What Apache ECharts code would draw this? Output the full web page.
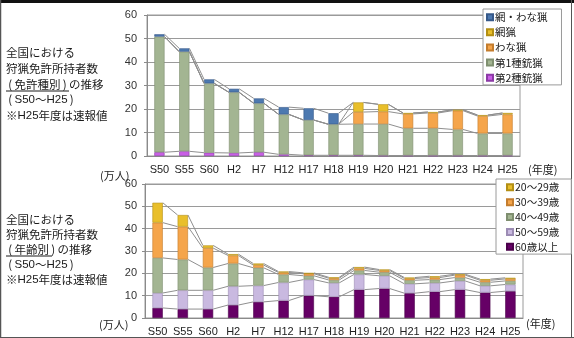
<!DOCTYPE html>
<html>
<head>
<meta charset="utf-8">
<script src="https://cdn.jsdelivr.net/npm/echarts@6/dist/echarts.min.js"></script>
<style>
  html, body { margin: 0; padding: 0; background: #fff; }
  #chart { width: 574px; height: 338px; }
</style>
</head>
<body>
<div id="chart"></div>
<script>
// 年度
const years = ['S50','S55','S60','H2','H7','H12','H17','H18','H19','H20','H21','H22','H23','H24','H25'];
const yTicks = [0, 10, 20, 30, 40, 50, 60];

// 免許種別（万人）
const daiNiJu   = [1.6, 2.0, 1.4, 1.3, 1.6, 0.7, 0.3, 0.3, 0.3, 0.2, 0.2, 0.2, 0.2, 0.2, 0.2];
const daiIchiJu = [49.2, 42.4, 29.5, 25.8, 20.8, 17.0, 15.0, 13.2, 13.3, 13.4, 11.6, 11.6, 11.1, 9.4, 9.4];
const wanaRyo   = [null, null, null, null, null, null, null, null, 5.1, 5.3, 6.1, 6.5, 8.0, 7.4, 8.1];
const amiRyo    = [null, null, null, null, null, null, null, null, 4.1, 3.1, 0.4, 0.4, 0.4, 0.4, 0.6];
const amiWana   = [1.0, 1.4, 1.7, 1.5, 2.1, 3.1, 5.0, 4.7, null, null, null, null, null, null, null];

// 年齢別（万人）
const age60 = [4.5, 4.0, 4.0, 5.8, 7.2, 7.8, 10.0, 9.5, 12.7, 13.2, 11.1, 11.8, 12.7, 11.4, 12.0];
const age50 = [6.7, 8.4, 8.4, 8.4, 7.3, 8.1, 7.2, 6.2, 6.8, 5.7, 4.2, 3.9, 3.9, 3.0, 3.0];
const age40 = [15.7, 13.8, 10.2, 10.2, 8.0, 3.6, 1.7, 1.3, 1.8, 1.6, 1.6, 1.5, 1.5, 1.6, 1.6];
const age30 = [15.8, 14.7, 8.7, 3.6, 1.2, 0.9, 0.9, 0.8, 0.9, 0.8, 0.8, 0.9, 1.1, 0.9, 0.9];
const age20 = [8.9, 5.2, 1.2, 0.6, 0.7, 0.4, 0.4, 0.4, 0.6, 0.4, 0.4, 0.6, 0.4, 0.5, 0.5];

const JP = '"Noto Sans CJK JP", "Liberation Sans", sans-serif';
const NUM = '"Liberation Sans", "Noto Sans CJK JP", sans-serif';
const BAR_FRAC = 0.41;

const chart = echarts.init(document.getElementById('chart'), null, { renderer: 'canvas' });

function barSeries(name, data, color, border, gi) {
  return {
    name, type: 'bar', data, stack: 'g' + gi,
    xAxisIndex: gi, yAxisIndex: gi,
    barWidth: (BAR_FRAC * 100) + '%',
    itemStyle: { color, borderColor: border, borderWidth: 0.6 },
    emphasis: { disabled: true }, silent: true
  };
}

// 系列線：隣り合う棒の各区切りを結ぶ
function seriesLines(stackArrays, gi) {
  const levels = [];
  let acc = years.map(() => 0);
  stackArrays.forEach(arr => {
    acc = acc.map((v, i) => v + (arr[i] || 0));
    levels.push(acc.slice());
  });
  return {
    type: 'custom', xAxisIndex: gi, yAxisIndex: gi, silent: true, z: 3,
    data: years.slice(0, -1).map((_, i) => [i, 0]),
    encode: { x: 0, y: 1 },
    renderItem(params, api) {
      const i = api.value(0);
      const half = api.size([1, 0])[0] * BAR_FRAC / 2;
      return {
        type: 'group',
        children: levels.map(lv => {
          const a = api.coord([i, lv[i]]);
          const b = api.coord([i + 1, lv[i + 1]]);
          return {
            type: 'line',
            shape: { x1: a[0] + half, y1: a[1], x2: b[0] - half, y2: b[1] },
            style: { stroke: '#8f8f8f', lineWidth: 1 }
          };
        })
      };
    }
  };
}

function xAxis(gi) {
  return {
    type: 'category', gridIndex: gi, data: years,
    axisLine: { lineStyle: { color: '#8a8a8a', width: 1 } },
    axisTick: { inside: true, length: 3, lineStyle: { color: '#8a8a8a' } },
    axisLabel: { color: '#222', fontSize: 11, fontFamily: NUM, margin: 8, interval: 0 }
  };
}
function yAxis(gi, margin) {
  return {
    type: 'value', gridIndex: gi, min: yTicks[0], max: yTicks[yTicks.length - 1], interval: 10,
    axisLine: { show: true, lineStyle: { color: '#8a8a8a' } },
    axisTick: { show: true, length: 3, lineStyle: { color: '#8a8a8a' } },
    splitLine: { lineStyle: { color: '#9a9a9a', width: 1 } },
    axisLabel: { color: '#333', fontSize: 11, fontFamily: NUM, margin }
  };
}

// 左側の説明文（括弧は詰めて描く）
const noteRich = {
  p: { width: 8.5, align: 'center', font: '11.5px ' + JP, fill: '#1a1a1a', lineHeight: 14 },
  l: { font: '11.5px ' + NUM, fill: '#1a1a1a', lineHeight: 14 }
};
function textLines(lines, x, ys, underline) {
  const els = lines.map((t, k) => ({
    type: 'text', x: x, y: ys[k], silent: true,
    style: {
      text: t, rich: noteRich, font: '11.5px ' + JP, fill: '#1a1a1a',
      lineHeight: 14, align: 'left', verticalAlign: 'middle'
    }
  }));
  els.push({
    type: 'line', silent: true,
    shape: { x1: underline[0], y1: underline[2], x2: underline[1], y2: underline[2] },
    style: { stroke: '#1a1a1a', lineWidth: 1 }
  });
  return els;
}

const smallText = (t, x, y) => ({
  type: 'text', left: x, top: y, silent: true,
  style: { text: t, font: '11px ' + JP, fill: '#222' }
});

const legendText = { fontSize: 10.5, fontFamily: JP, color: '#222', lineHeight: 10, padding: [0, 0, 0, -3] };

const option = {
  animation: false,
  backgroundColor: '#fff',
  grid: [
    { left: 147, top: 15, width: 373, height: 141, show: true, borderColor: '#9a9a9a', borderWidth: 1, backgroundColor: 'transparent' },
    { left: 145, top: 184, width: 378, height: 134, show: true, borderColor: '#9a9a9a', borderWidth: 1, backgroundColor: 'transparent' }
  ],
  xAxis: [xAxis(0), xAxis(1)],
  yAxis: [yAxis(0, 10), yAxis(1, 8)],
  legend: [
    {
      data: ['網・わな猟', '網猟', 'わな猟', '第1種銃猟', '第2種銃猟'],
      orient: 'vertical', left: 483, top: 9, width: 79,
      itemWidth: 6, itemHeight: 6, itemGap: 4.6, icon: 'rect',
      padding: [3, 14, 2, 3],
      backgroundColor: '#fff', borderColor: '#9a9a9a', borderWidth: 1,
      textStyle: legendText, selectedMode: false
    },
    {
      data: ['20〜29歳', '30〜39歳', '40〜49歳', '50〜59歳', '60歳以上'],
      orient: 'vertical', left: 496, top: 179, width: 68,
      itemWidth: 6, itemHeight: 6, itemGap: 4.4, icon: 'rect',
      padding: [3, 12, 2, 10],
      backgroundColor: '#fff', borderColor: '#9a9a9a', borderWidth: 1,
      textStyle: legendText, selectedMode: false
    }
  ],
  series: [
    barSeries('第2種銃猟', daiNiJu, '#c95fe6', '#8c3aa6', 0),
    barSeries('第1種銃猟', daiIchiJu, '#a3b592', '#7f8f70', 0),
    barSeries('わな猟', wanaRyo, '#f5a54b', '#c47d2e', 0),
    barSeries('網猟', amiRyo, '#e9bf2b', '#b38f14', 0),
    barSeries('網・わな猟', amiWana, '#4d79b0', '#36598a', 0),
    seriesLines([daiNiJu, daiIchiJu, wanaRyo, amiRyo, amiWana], 0),

    barSeries('60歳以上', age60, '#660066', '#4a004a', 1),
    barSeries('50〜59歳', age50, '#c9b9e0', '#9c8cb4', 1),
    barSeries('40〜49歳', age40, '#a3b592', '#7f8f70', 1),
    barSeries('30〜39歳', age30, '#f5a54b', '#c47d2e', 1),
    barSeries('20〜29歳', age20, '#e9bf2b', '#b38f14', 1),
    seriesLines([age60, age50, age40, age30, age20], 1)
  ],
  graphic: [
    // 外枠
    { type: 'rect', silent: true, shape: { x: 0, y: 0, width: 574, height: 3 }, style: { fill: '#111' } },
    { type: 'line', silent: true, shape: { x1: 0.5, y1: 0, x2: 0.5, y2: 338 }, style: { stroke: '#555', lineWidth: 1.5 } },
    { type: 'line', silent: true, shape: { x1: 571.5, y1: 0, x2: 571.5, y2: 338 }, style: { stroke: '#555', lineWidth: 1 } },
    { type: 'line', silent: true, shape: { x1: 0, y1: 337.5, x2: 574, y2: 337.5 }, style: { stroke: '#555', lineWidth: 1 } },

    ...textLines(['全国における', '狩猟免許所持者数', '{p|(}免許種別{p|)}の推移', '{p|(}{l|S50}〜{l|H25}{p|)}', '※{l|H25}年度は速報値'],
      6, [52.5, 68.8, 84.6, 100, 115.4], [6, 69, 91]),
    ...textLines(['全国における', '狩猟免許所持者数', '{p|(}年齢別{p|)}の推移', '{p|(}{l|S50}〜{l|H25}{p|)}', '※{l|H25}年度は速報値'],
      6, [219.2, 234.3, 249.5, 264.5, 280], [6, 52, 256]),

    smallText('(万人)', 100, 170),
    smallText('(年度)', 528, 164),
    smallText('(万人)', 99, 319),
    smallText('(年度)', 526, 318)
  ]
};

chart.setOption(option);
</script>
</body>
</html>
